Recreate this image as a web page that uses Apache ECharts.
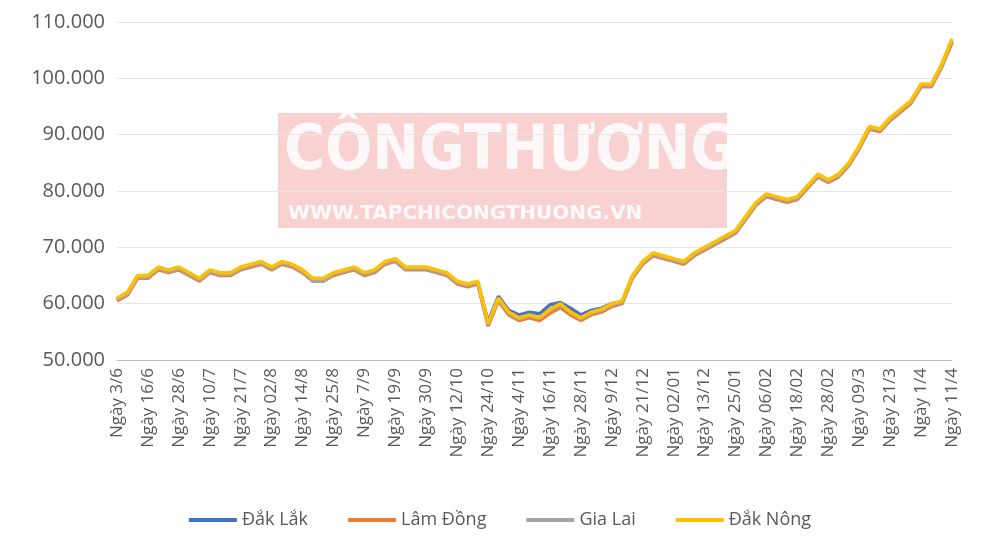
<!DOCTYPE html>
<html><head><meta charset="utf-8">
<script src="https://cdn.jsdelivr.net/npm/echarts@6/dist/echarts.min.js"></script>
<style>html,body{margin:0;background:#fff}#c{width:1000px;height:542px}</style>
</head><body><div id="c"></div>
<script>
var dates = [
 'Ngày 3/6','Ngày 7/6','Ngày 12/6','Ngày 16/6','Ngày 20/6','Ngày 24/6','Ngày 28/6','Ngày 3/7','Ngày 6/7','Ngày 10/7','Ngày 14/7','Ngày 18/7',
 'Ngày 21/7','Ngày 26/7','Ngày 29/7','Ngày 02/8','Ngày 6/8','Ngày 10/8','Ngày 14/8','Ngày 18/8','Ngày 21/8','Ngày 25/8','Ngày 29/8','Ngày 2/9',
 'Ngày 7/9','Ngày 11/9','Ngày 15/9','Ngày 19/9','Ngày 23/9','Ngày 26/9','Ngày 30/9','Ngày 4/10','Ngày 8/10','Ngày 12/10','Ngày 16/10','Ngày 20/10',
 'Ngày 24/10','Ngày 28/10','Ngày 31/10','Ngày 4/11','Ngày 8/11','Ngày 12/11','Ngày 16/11','Ngày 20/11','Ngày 24/11','Ngày 28/11','Ngày 2/12','Ngày 5/12',
 'Ngày 9/12','Ngày 13/12','Ngày 17/12','Ngày 21/12','Ngày 25/12','Ngày 29/12','Ngày 02/01','Ngày 06/01','Ngày 09/01','Ngày 13/12','Ngày 17/01','Ngày 21/01',
 'Ngày 25/01','Ngày 29/01','Ngày 02/02','Ngày 06/02','Ngày 10/02','Ngày 14/02','Ngày 18/02','Ngày 22/02','Ngày 25/02','Ngày 28/02','Ngày 03/3','Ngày 06/3',
 'Ngày 09/3','Ngày 13/3','Ngày 17/3','Ngày 21/3','Ngày 25/3','Ngày 28/3','Ngày 1/4','Ngày 5/4','Ngày 8/4','Ngày 11/4'
];
var dakNong = [
 61000,62000,65000,65000,66500,66000,66500,65500,64500,66000,65500,65500,
 66500,67000,67500,66500,67500,67000,66000,64500,64500,65500,66000,66500,
 65500,66000,67500,68000,66500,66500,66500,66000,65500,64000,63500,64000,
 56500,61000,58500,57500,58000,57500,59000,60000,58500,57500,58500,59000,
 60000,60500,65000,67500,69000,68500,68000,67500,69000,70000,71000,72000,
 73000,75500,78000,79500,79000,78500,79000,81000,83000,82000,83000,85000,
 88000,91500,91000,93000,94500,96000,99000,99000,102500,107000
];
var dakLak = [
 60800,61800,64800,64800,66300,65800,66300,65300,64300,65800,65300,65300,
 66300,66800,67300,66300,67300,66800,65800,64200,64200,65300,65800,66300,
 65300,65800,67300,67800,66300,66300,66300,65800,65300,63800,63300,63800,
 56800,61300,58800,58000,58500,58200,59800,60200,59200,58000,58800,59200,
 60000,60300,64800,67300,68800,68300,67800,67300,68800,69800,70800,71800,
 72800,75300,77800,79300,78800,78300,78800,80800,82800,81800,82800,84800,
 87800,91300,90800,92800,94300,95800,98800,98800,102300,106500
];
var lamDong = [
 60500,61500,64500,64500,66000,65500,66000,65000,64000,65500,65000,65000,
 66000,66500,67000,66000,67000,66500,65500,64000,64000,65000,65500,66000,
 65000,65500,67000,67500,66000,66000,66000,65500,65000,63500,63000,63500,
 56000,60500,58000,57000,57500,57000,58300,59300,58000,57000,58000,58500,
 59500,60000,64500,67000,68500,68000,67500,67000,68500,69500,70500,71500,
 72500,75000,77500,79000,78500,78000,78500,80500,82500,81500,82500,84500,
 87500,91000,90500,92500,94000,95500,98500,98500,102000,106300
];
var giaLai = [
 60700,61700,64700,64700,66200,65700,66200,65200,64200,65700,65200,65200,
 66200,66700,67200,66200,67200,66700,65700,64000,64000,65200,65700,66200,
 65200,65700,67200,67700,66200,66200,66200,65700,65200,63700,63200,63700,
 56300,60800,58300,57300,57800,57400,58800,59700,58500,57300,58300,58800,
 59800,60200,64700,67200,68700,68200,67700,67200,68700,69700,70700,71700,
 72700,75200,77700,79200,78700,78200,78700,80700,82700,81700,82700,84700,
 87700,91200,90700,92700,94200,95700,98700,98700,102200,106700
];
var seriesNames = ['Đắk Lắk', 'Lâm Đồng', 'Gia Lai', 'Đắk Nông'];
var seriesData = [dakLak, lamDong, giaLai, dakNong];
var colors = ['#4472C4', '#ED7D31', '#A5A5A5', '#FFC000'];

var chart = echarts.init(document.getElementById('c'));
chart.setOption({
    color: colors,
    textStyle: { fontFamily: 'Open Sans' },
    graphic: [
        { type: 'rect', left: 278, top: 113, z: 0, shape: { width: 449, height: 115 },
          style: { fill: 'rgba(240,140,140,0.4)' } },
        { type: 'text', left: 284, top: 122, z: 0,
          style: { text: 'CÔNGTHƯƠNG', fill: 'rgba(255,255,255,0.85)', font: 'bold 62px "DejaVu Sans Condensed"' } },
        { type: 'text', left: 288, top: 204, z: 0,
          style: { text: 'WWW.TAPCHICONGTHUONG.VN', fill: 'rgba(255,255,255,0.9)', font: 'bold 20px "DejaVu Sans"' } }
    ],
    grid: { left: 117, right: 48, top: 22, bottom: 182 },
    legend: {
        bottom: 8, itemWidth: 48, itemHeight: 4, itemGap: 40,
        icon: 'rect',
        textStyle: { fontSize: 18, color: '#595959' },
        data: seriesNames
    },
    xAxis: {
        type: 'category', data: dates, boundaryGap: false,
        axisLine: { lineStyle: { color: '#bfbfbf' } },
        axisTick: { show: false },
        axisLabel: { rotate: 90, interval: 2, fontSize: 17, color: '#595959' }
    },
    yAxis: {
        type: 'value', min: 50000, max: 110000, interval: 10000,
        axisLabel: { fontSize: 20, color: '#595959', margin: 12,
            formatter: function (v) { return (v / 1000).toFixed(0) + '.000'; } },
        splitLine: { lineStyle: { color: '#e6e6e6' } }
    },
    series: seriesNames.map(function (n, i) {
        return { name: n, type: 'line', data: seriesData[i], showSymbol: false,
                 lineStyle: { width: 3.5 }, z: 2 + i };
    })
});
</script>
</body></html>
